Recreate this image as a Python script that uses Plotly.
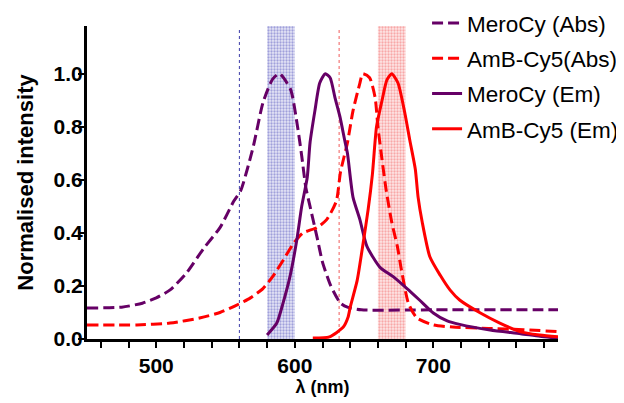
import plotly.graph_objects as go

# ---------------- data ----------------
mero_abs_x = [450, 475, 490, 500, 510, 522, 534, 546, 556, 561, 570, 577, 584, 589, 597, 602,
              605, 608, 611, 616, 620, 626, 633, 638, 648, 700, 790]
mero_abs_y = [0.117, 0.12, 0.135, 0.155, 0.185, 0.25, 0.34, 0.42, 0.52, 0.56, 0.725, 0.89, 0.98,
              1.0, 0.94, 0.80, 0.69, 0.57, 0.50, 0.385, 0.29, 0.20, 0.135, 0.12, 0.11, 0.11, 0.11]

amb_abs_x = [450, 486, 510, 532, 546, 557, 568, 577, 584, 592, 599, 606, 616, 623, 630, 633,
             638, 642, 647, 649, 654, 658, 660, 663, 666, 670, 674, 677, 682, 688, 700, 714,
             740, 765, 790]
amb_abs_y = [0.053, 0.053, 0.06, 0.08, 0.10, 0.125, 0.155, 0.19, 0.235, 0.30, 0.36, 0.40, 0.42,
             0.45, 0.52, 0.63, 0.74, 0.86, 0.965, 1.0, 0.985, 0.91, 0.80, 0.675, 0.56, 0.44,
             0.35, 0.26, 0.135, 0.08, 0.053, 0.045, 0.04, 0.035, 0.028]

mero_em_x = [580, 587, 591.5, 596.5, 601.5, 605, 609, 611, 614.5, 618, 622, 625.5, 629, 632.5,
             636, 638, 642, 647, 652, 661.5, 671, 681, 690, 700, 710, 719, 741, 763, 777, 790]
mero_em_y = [0.015, 0.06, 0.135, 0.235, 0.375, 0.50, 0.61, 0.74, 0.86, 0.965, 1.0, 0.985, 0.91,
             0.84, 0.75, 0.70, 0.535, 0.45, 0.35, 0.27, 0.235, 0.19, 0.147, 0.098, 0.068, 0.055,
             0.034, 0.02, 0.01, 0.003]

amb_em_x = [613, 625, 635, 638.5, 640, 645, 649, 653, 656, 659, 663, 666.5, 670, 674.5, 679.5,
            683, 687, 689, 692, 697.5, 705, 712, 719, 734, 748, 763, 777, 790]
amb_em_y = [0.004, 0.008, 0.045, 0.083, 0.12, 0.22, 0.35, 0.49, 0.62, 0.80, 0.90, 0.977, 1.0,
            0.965, 0.85, 0.75, 0.64, 0.535, 0.44, 0.31, 0.24, 0.185, 0.147, 0.098, 0.06, 0.027,
            0.015, 0.008]

names = ["MeroCy (Abs)", "AmB-Cy5(Abs)", "MeroCy (Em)", "AmB-Cy5 (Em)"]

# excitation / emission bands (centre, width) and dotted marker lines
blue_band = (590, 20)
red_band = (670, 20)
blue_line_x = 560
red_line_x = 632

x_tickvals = list(range(460, 790, 20))
x_ticktext = [str(v) if v % 100 == 0 else "" for v in x_tickvals]
y_tickvals = [0.0, 0.2, 0.4, 0.6, 0.8, 1.0]
y_ticktext = ["0.0", "0.2", "0.4", "0.6", "0.8", "1.0"]

YMAX = 1.18
PURPLE = "#660066"
RED = "#ff0000"

fig = go.Figure()

# bands as patterned bars
for (c, w), fg, bg in [(blue_band, "#5a5ac0", "#e6e6f6"), (red_band, "#f26a6a", "#fde6e6")]:
    fig.add_trace(go.Bar(
        x=[c], y=[YMAX], width=[w], base=0, showlegend=False, hoverinfo="skip",
        marker=dict(color=bg, line=dict(width=0),
                    pattern=dict(shape=".", fgcolor=fg, bgcolor=bg, size=3, solidity=0.45)),
    ))

dash = "11px,5px"
series = [
    (mero_abs_x, mero_abs_y, PURPLE, dash, names[0]),
    (amb_abs_x, amb_abs_y, RED, dash, names[1]),
    (mero_em_x, mero_em_y, PURPLE, "solid", names[2]),
    (amb_em_x, amb_em_y, RED, "solid", names[3]),
]
for i, (xs, ys, col, d, nm) in enumerate(series):
    fig.add_trace(go.Scatter(
        x=xs, y=ys, mode="lines", name=nm, legendgroup=f"g{i}",
        line=dict(color=col, width=3, dash=d, shape="spline", smoothing=0.6),
    ))

# dotted vertical lines
for xv, col in [(blue_line_x, "#3c3ca8"), (red_line_x, "#f05a5a")]:
    fig.add_shape(type="line", xref="x", yref="y", x0=xv, x1=xv, y0=0, y1=1.165,
                  line=dict(color=col, width=1, dash="dot"), layer="below")

fig.update_layout(
    width=632, height=403,
    margin=dict(l=79, r=82, t=18, b=72, autoexpand=False),
    paper_bgcolor="white", plot_bgcolor="white",
    font=dict(family="Liberation Sans, Arial, sans-serif", color="black"),
    barmode="overlay",
    legend=dict(x=0.722, y=1.077, xanchor="left", yanchor="top",
                font=dict(size=22.5, color="black"),
                traceorder="grouped", tracegroupgap=3, itemwidth=30,
                bgcolor="rgba(0,0,0,0)"),
    xaxis=dict(range=[450, 790], showgrid=False, zeroline=False, automargin=False,
               showline=True, linecolor="black", linewidth=3,
               ticks="outside", ticklen=6, tickwidth=2, tickcolor="black",
               tickvals=x_tickvals, ticktext=x_ticktext,
               tickfont=dict(size=21, weight="bold"),
               title=dict(text="λ (nm)", font=dict(size=18, weight="bold"), standoff=3)),
    yaxis=dict(range=[0, YMAX], showgrid=False, zeroline=False, automargin=False,
               showline=True, linecolor="black", linewidth=3,
               ticks="outside", ticklen=6, tickwidth=2, tickcolor="black",
               tickvals=y_tickvals, ticktext=y_ticktext, ticklabelstandoff=-9,
               tickfont=dict(size=21, weight="bold"),
               title=dict(text="Normalised intensity", font=dict(size=22, weight="bold"), standoff=14)),
)

fig.write_html("out.html")
